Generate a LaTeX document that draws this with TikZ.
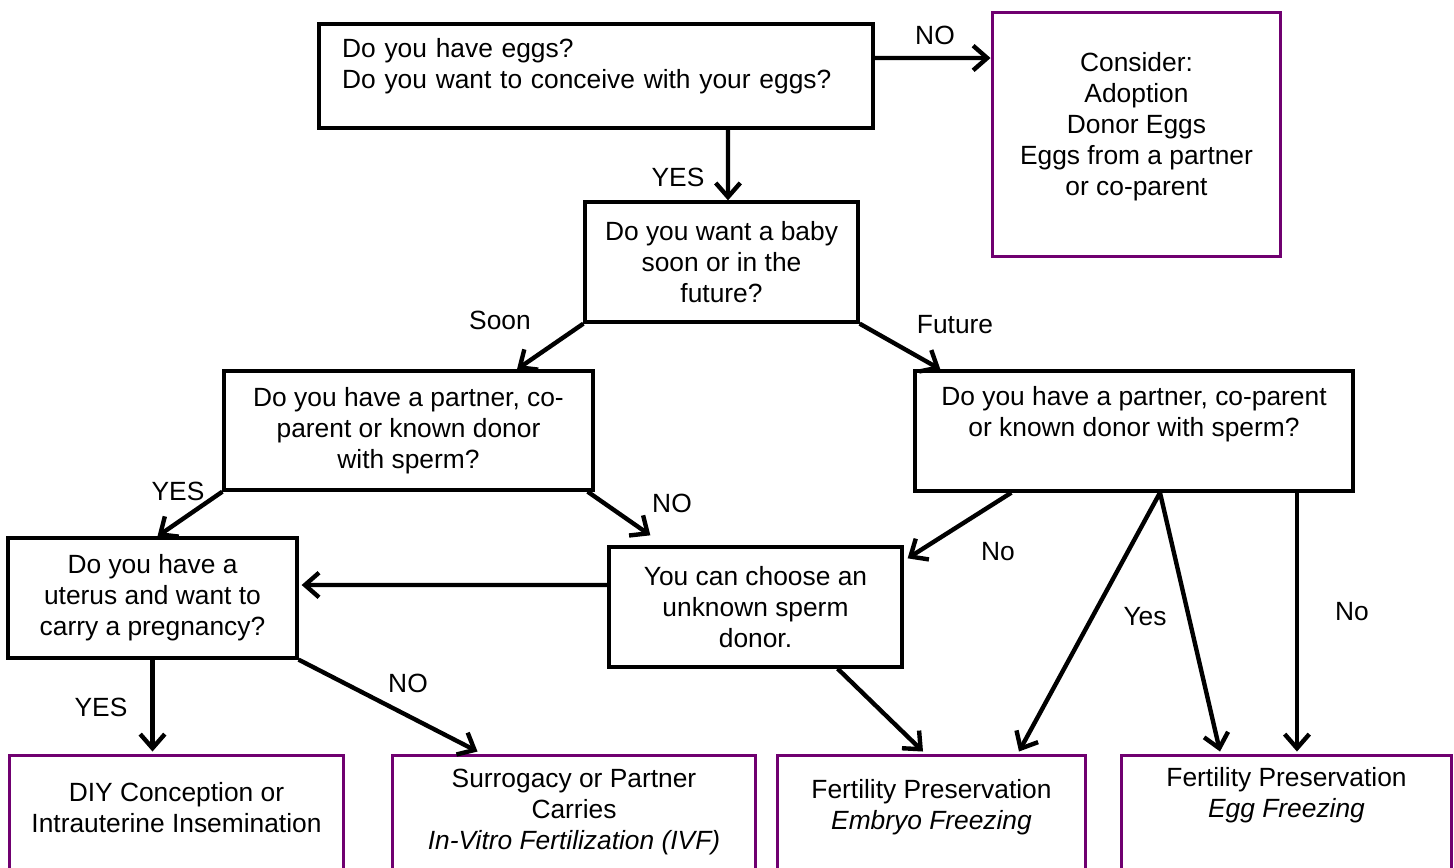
\documentclass[tikz,border=0pt]{standalone}
\usepackage{fontspec}
\setmainfont{Liberation Sans}
\usetikzlibrary{arrows.meta}
\definecolor{endpurple}{RGB}{112,0,112}
% extra depth below the last line, pushes the text up in its box
\newcommand{\lowstrut}[1]{\rule[-#1]{0pt}{#1}}

\begin{document}
\begin{tikzpicture}[x=0.02cm, y=-0.02cm,
    every node/.style={font=\fontsize{15pt}{17.6pt}\selectfont},
    qbox/.style={shape=rectangle, draw, line width=1.9pt, inner sep=0pt, align=center},
    ebox/.style={qbox, draw=endpurple, line width=1.7pt},
    arr/.style={line width=2.5pt, -{Straight Barb[length=8pt, width=14pt]}},
    lbl/.style={inner sep=0pt}]
    \useasboundingbox (0,0) rectangle (1454,868);
    \clip (0,0) rectangle (1454,868);

    % Questions:
    \node[qbox, align=left, text width=10.16cm, minimum width=11.08cm, minimum height=2.08cm](A) at (596, 76){Do you have eggs?\\Do you want to conceive with your eggs?\lowstrut{14.5pt}};
    \node[qbox, minimum width=5.46cm, minimum height=2.4cm](B) at (721.5, 262){Do you want a baby\\soon or in the\\future?};
    \node[qbox, minimum width=7.38cm, minimum height=2.38cm](C) at (408.5, 430.5){Do you have a partner, co-\\parent or known donor\\with sperm?};
    \node[qbox, minimum width=8.76cm, minimum height=2.4cm](D) at (1134, 431){Do you have a partner, co-parent\\or known donor with sperm?\lowstrut{22.5pt}};
    \node[qbox, minimum width=5.78cm, minimum height=2.4cm](E) at (152.5, 598){Do you have a\\uterus and want to\\carry a pregnancy?};
    \node[qbox, minimum width=5.86cm, minimum height=2.4cm](You) at (755.5, 607){You can choose an\\unknown sperm\\donor.};

    % Outcomes:
    \node[ebox, minimum width=5.78cm, minimum height=4.9cm](Cons) at (1136.5, 134.5){Consider:\\Adoption\\Donor Eggs\\Eggs from a partner\\or co-parent\lowstrut{12.3pt}};
    \node[ebox, minimum width=6.7cm, minimum height=2.66cm](DIY) at (176.5, 821.5){DIY Conception or\\Intrauterine Insemination\lowstrut{16.4pt}};
    \node[ebox, minimum width=7.28cm, minimum height=2.66cm](Surr) at (574, 821.5){Surrogacy or Partner\\Carries\\\textit{In-Vitro Fertilization (IVF)}\lowstrut{14pt}};
    \node[ebox, minimum width=6.18cm, minimum height=2.66cm](Emb) at (931.5, 821.5){Fertility Preservation\\\textit{Embryo Freezing}\lowstrut{19.6pt}};
    \node[ebox, minimum width=6.62cm, minimum height=2.66cm](Egg) at (1286.5, 821.5){Fertility Preservation\\\textit{Egg Freezing}\lowstrut{33.2pt}};

    % Labels:
    \node[lbl](no1) at (935, 35){NO};
    \node[lbl](yes1) at (678, 177){YES};
    \node[lbl](soon) at (500, 320){Soon};
    \node[lbl](future) at (955, 325){Future};
    \node[lbl](yes2) at (178, 491){YES};
    \node[lbl](no2) at (672, 503){NO};
    \node[lbl](no3) at (998, 552){No};
    \node[lbl](yes3) at (1145, 617){Yes};
    \node[lbl](no4) at (1352, 612){No};
    \node[lbl](no5) at (408, 683){NO};
    \node[lbl](yes4) at (101, 707){YES};

    % Arrows:
    \coordinate (e1) at (E.south |- DIY.north);
    \coordinate (d4) at ([xshift=3.26cm]D.south);
    \coordinate (d5) at (d4 |- Egg.north);
    \draw[arr] ([yshift=0.36cm]A.east) -- ([yshift=1.53cm]Cons.west);
    \draw[arr] ([xshift=2.64cm]A.south) -- ([xshift=0.13cm]B.north);
    \draw[arr] (B.south west) -- ([xshift=2.17cm]C.north);
    \draw[arr] (B.south east) -- ([xshift=0.54cm]D.north west);
    \draw[arr] (C.south west) -- ([xshift=0.1cm]E.north);
    \draw[arr] ([xshift=-0.14cm]C.south east) -- ([xshift=0.86cm, yshift=0.2cm]You.north west);
    \draw[arr] ([xshift=1.96cm]D.south west) -- ([xshift=0.08cm, yshift=-0.26cm]You.north east);
    \draw[arr] ([yshift=0.44cm]You.west) -- ([xshift=0.06cm, yshift=0.26cm]E.east);
    \draw[arr] (E.south) -- ([yshift=0.04cm]e1);
    \draw[arr] (E.south east) -- ([xshift=1.74cm, yshift=0.04cm]Surr.north west);
    \draw[arr] ([xshift=-1.32cm]You.south east) -- ([xshift=-0.17cm, yshift=0.04cm]Emb.north);
    \draw[arr] ([xshift=0.52cm]D.south) -- ([xshift=1.75cm, yshift=0.04cm]Emb.north);
    \draw[arr] ([xshift=0.52cm]D.south) -- ([xshift=-1.33cm, yshift=0.04cm]Egg.north);
    \draw[arr] (d4) -- ([yshift=0.04cm]d5);
\end{tikzpicture}
\end{document}
